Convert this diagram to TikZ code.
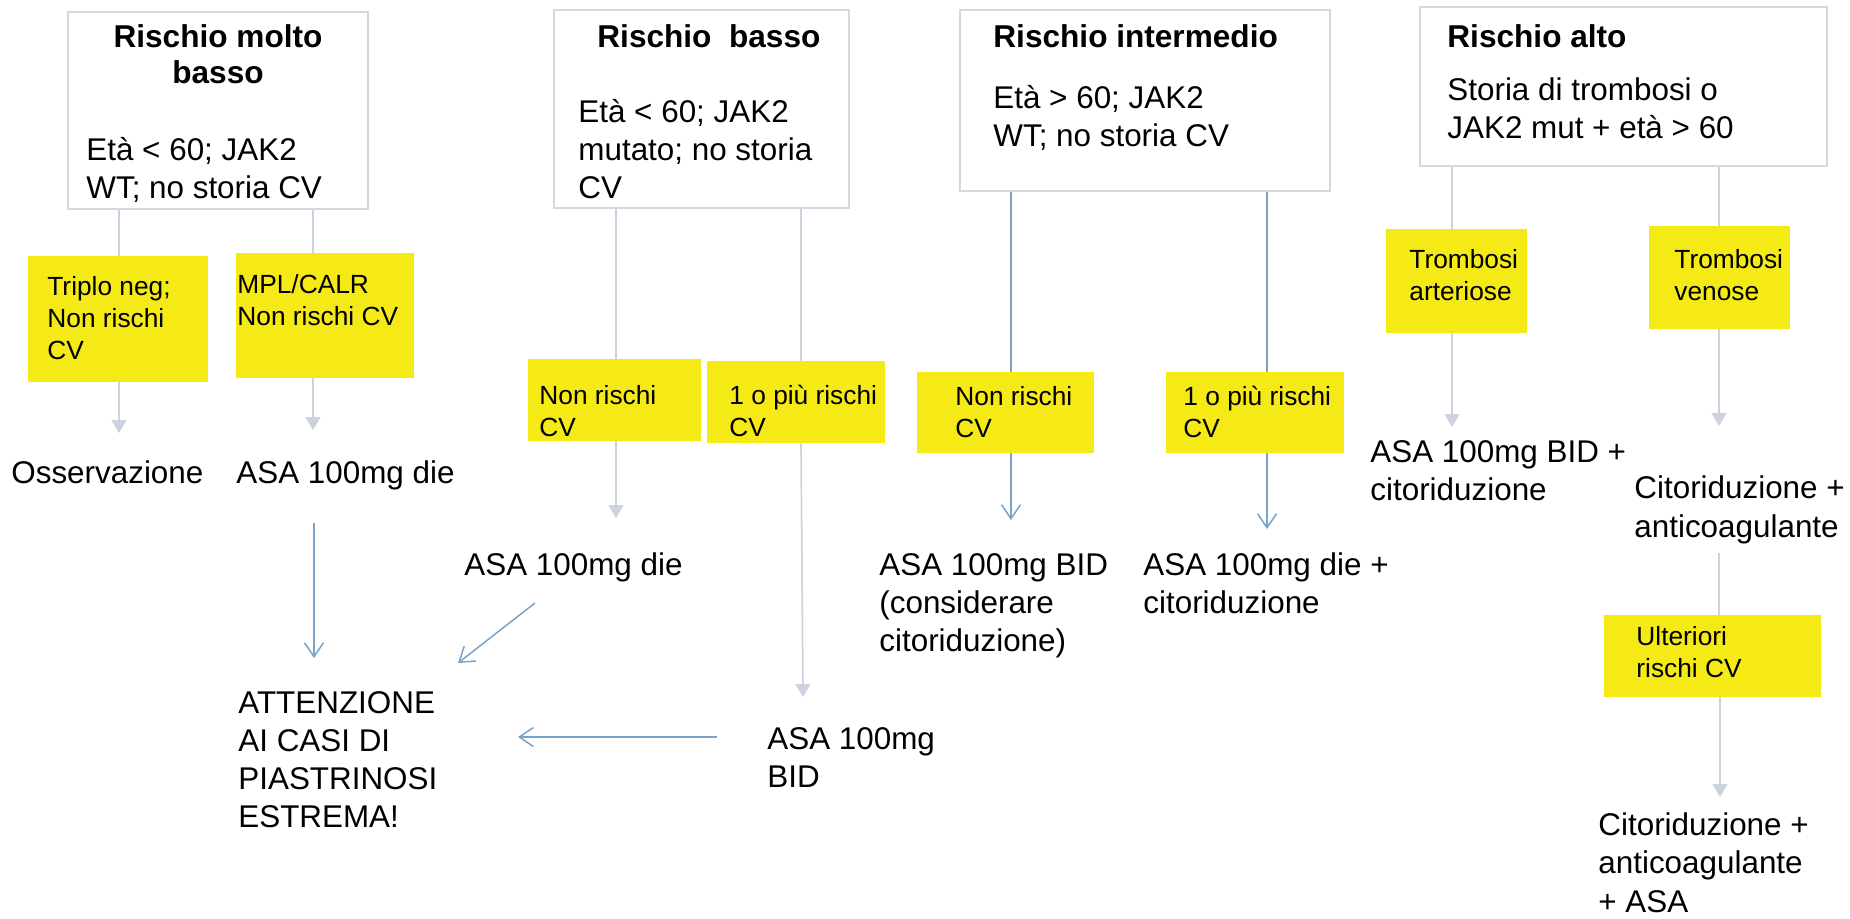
\documentclass[tikz,border=0pt]{standalone}
\usepackage{fontspec}
\setmainfont{Liberation Sans}
\usetikzlibrary{arrows.meta,fit}
\definecolor{ybg}{RGB}{245,234,22}
\definecolor{bframe}{RGB}{212,216,224}
\definecolor{gline}{RGB}{204,211,222}
\definecolor{bline}{RGB}{122,163,200}
\newcommand{\sA}{\rule{0pt}{13pt}}
\newcommand{\sY}{\rule{0pt}{11pt}}
\tikzset{
  wbox/.style={draw=bframe, line width=1pt, fill=white, inner sep=0pt},
  ybox/.style={fill=ybg, draw=none, inner sep=0pt},
  txt/.style={anchor=north west, inner sep=0pt, align=left, font=\fontsize{15.7}{19}\selectfont},
  ttl/.style={anchor=north west, inner sep=0pt, align=left, font=\bfseries\fontsize{15.8}{18}\selectfont},
  ytxt/.style={anchor=north west, inner sep=0pt, align=left, font=\fontsize{13.15}{16}\selectfont},
  gconn/.style={draw=gline, line width=0.85pt},
  garr/.style={gconn, -{Triangle[length=6.5pt,width=7.5pt]}},
  bconn/.style={draw=bline, line width=0.75pt},
  barr/.style={bconn, -{Straight Barb[length=7pt,width=9.5pt]}},
}
\begin{document}
\begin{tikzpicture}[x=0.5pt,y=-0.5pt]
\useasboundingbox[fill=white] (0,0) rectangle (1850,918);

% white boxes
\node[wbox, fit={(68,12) (368,209)}] (b1) {};
\node[wbox, fit={(554,10) (849,208)}] (b2) {};
\node[wbox, fit={(960,10) (1330,191)}] (b3) {};
\node[wbox, fit={(1420,7) (1827,166)}] (b4) {};

\node[ttl, anchor=north, align=center] (t1a) at (218,21) {\sA Rischio molto\\basso};
\node[txt] (t1b) at (86,134) {\sA Età < 60; JAK2\\WT; no storia CV};
\node[ttl] (t2a) at (597,21) {\sA Rischio~~basso};
\node[txt] (t2b) at (578,96) {\sA Età < 60; JAK2\\mutato; no storia\\CV};
\node[ttl] (t3a) at (993,21) {\sA Rischio intermedio};
\node[txt] (t3b) at (993,82) {\sA Età > 60; JAK2\\WT; no storia CV};
\node[ttl] (t4a) at (1447,21) {\sA Rischio alto};
\node[txt] (t4b) at (1447,74) {\sA Storia di trombosi o\\JAK2 mut + età > 60};

% yellow boxes
\node[ybox, fit={(28,256) (208,382)}] (y1) {};
\node[ybox, fit={(236,253) (414,378)}] (y2) {};
\node[ybox, fit={(528,359) (701,441)}] (y3) {};
\node[ybox, fit={(707,361) (885,443)}] (y4) {};
\node[ybox, fit={(917,372) (1094,453)}] (y5) {};
\node[ybox, fit={(1166,372) (1344,453)}] (y6) {};
\node[ybox, fit={(1386,229) (1527,333)}] (y7) {};
\node[ybox, fit={(1649,226) (1790,329)}] (y8) {};
\node[ybox, fit={(1604,615) (1821,697)}] (y9) {};

\node[ytxt] (ty1) at (47,273) {\sY Triplo neg;\\Non rischi\\CV};
\node[ytxt] (ty2) at (237,271) {\sY MPL/CALR\\Non rischi CV};
\node[ytxt] (ty3) at (539,382) {\sY Non rischi\\CV};
\node[ytxt] (ty4) at (729,382) {\sY 1 o più rischi\\CV};
\node[ytxt] (ty5) at (955,383) {\sY Non rischi\\CV};
\node[ytxt] (ty6) at (1183,383) {\sY 1 o più rischi\\CV};
\node[ytxt] (ty7) at (1409,246) {\sY Trombosi\\arteriose};
\node[ytxt] (ty8) at (1674,246) {\sY Trombosi\\venose};
\node[ytxt] (ty9) at (1636,623) {\sY Ulteriori\\rischi CV};

% results
\node[txt] (r1) at (11,457) {\sA Osservazione};
\node[txt] (r2) at (236,457) {\sA ASA 100mg die};
\node[txt] (r3) at (464,549) {\sA ASA 100mg die};
\node[txt] (r4) at (767,723) {\sA ASA 100mg\\BID};
\node[txt] (r5) at (879,549) {\sA ASA 100mg BID\\(considerare\\citoriduzione)};
\node[txt] (r6) at (1143,549) {\sA ASA 100mg die +\\citoriduzione};
\node[txt] (r7) at (1370,436) {\sA ASA 100mg BID +\\citoriduzione};
\node[txt, font=\fontsize{15.7}{19.75}\selectfont] (r8) at (1634,472) {\sA Citoriduzione +\\anticoagulante};
\node[txt, font=\fontsize{15.7}{19.25}\selectfont] (r9) at (1598,809) {\sA Citoriduzione +\\anticoagulante\\+ ASA};
\node[txt] (att) at (238,687) {\sA ATTENZIONE\\AI CASI DI\\PIASTRINOSI\\ESTREMA!};

% column x positions and free ends
\coordinate (c1) at (119,0);
\coordinate (c2) at (313,0);
\coordinate (c3) at (616,0);
\coordinate (c4) at (801,0);
\coordinate (c5) at (1011,0);
\coordinate (c6) at (1267,0);
\coordinate (c7) at (1452,0);
\coordinate (c8) at (1719,0);
\coordinate (p1) at (119,433);
\coordinate (p2) at (313,430);
\coordinate (p3) at (616,518);
\coordinate (p4) at (803,697);
\coordinate (p5) at (1011,520);
\coordinate (p6) at (1267,529);
\coordinate (p7) at (1452,427);
\coordinate (p8) at (1719,426);
\coordinate (q9) at (1719,553);
\coordinate (p9) at (1720,797);
\coordinate (a1s) at (314,523);
\coordinate (a1e) at (314,658);
\coordinate (a2s) at (535,603);
\coordinate (a2e) at (458,663);
\coordinate (a3s) at (717,737);
\coordinate (a3e) at (518,737);

% box -> yellow
\draw[gconn] (b1.south -| c1) -- (y1.north -| c1);
\draw[gconn] (b1.south -| c2) -- (y2.north -| c2);
\draw[gconn] (b2.south -| c3) -- (y3.north -| c3);
\draw[gconn] (b2.south -| c4) -- (y4.north -| c4);
\draw[bconn] (b3.south -| c5) -- (y5.north -| c5);
\draw[bconn] (b3.south -| c6) -- (y6.north -| c6);
\draw[gconn] (b4.south -| c7) -- (y7.north -| c7);
\draw[gconn] (b4.south -| c8) -- (y8.north -| c8);

% yellow -> results
\draw[garr] (y1.south -| c1) -- (p1);
\draw[garr] (y2.south -| c2) -- (p2);
\draw[garr] (y3.south -| c3) -- (p3);
\draw[garr] (y4.south -| c4) -- (p4);
\draw[barr] (y5.south -| c5) -- (p5);
\draw[barr] (y6.south -| c6) -- (p6);
\draw[garr] (y7.south -| c7) -- (p7);
\draw[garr] (y8.south -| c8) -- (p8);
\draw[gconn] (q9) -- (y9.north -| q9);
\draw[garr] (y9.south -| p9) -- (p9);

% to ATTENZIONE
\draw[barr] (a1s) -- (a1e);
\draw[barr] (a2s) -- (a2e);
\draw[barr] (a3s) -- (a3e);
\end{tikzpicture}
\end{document}
